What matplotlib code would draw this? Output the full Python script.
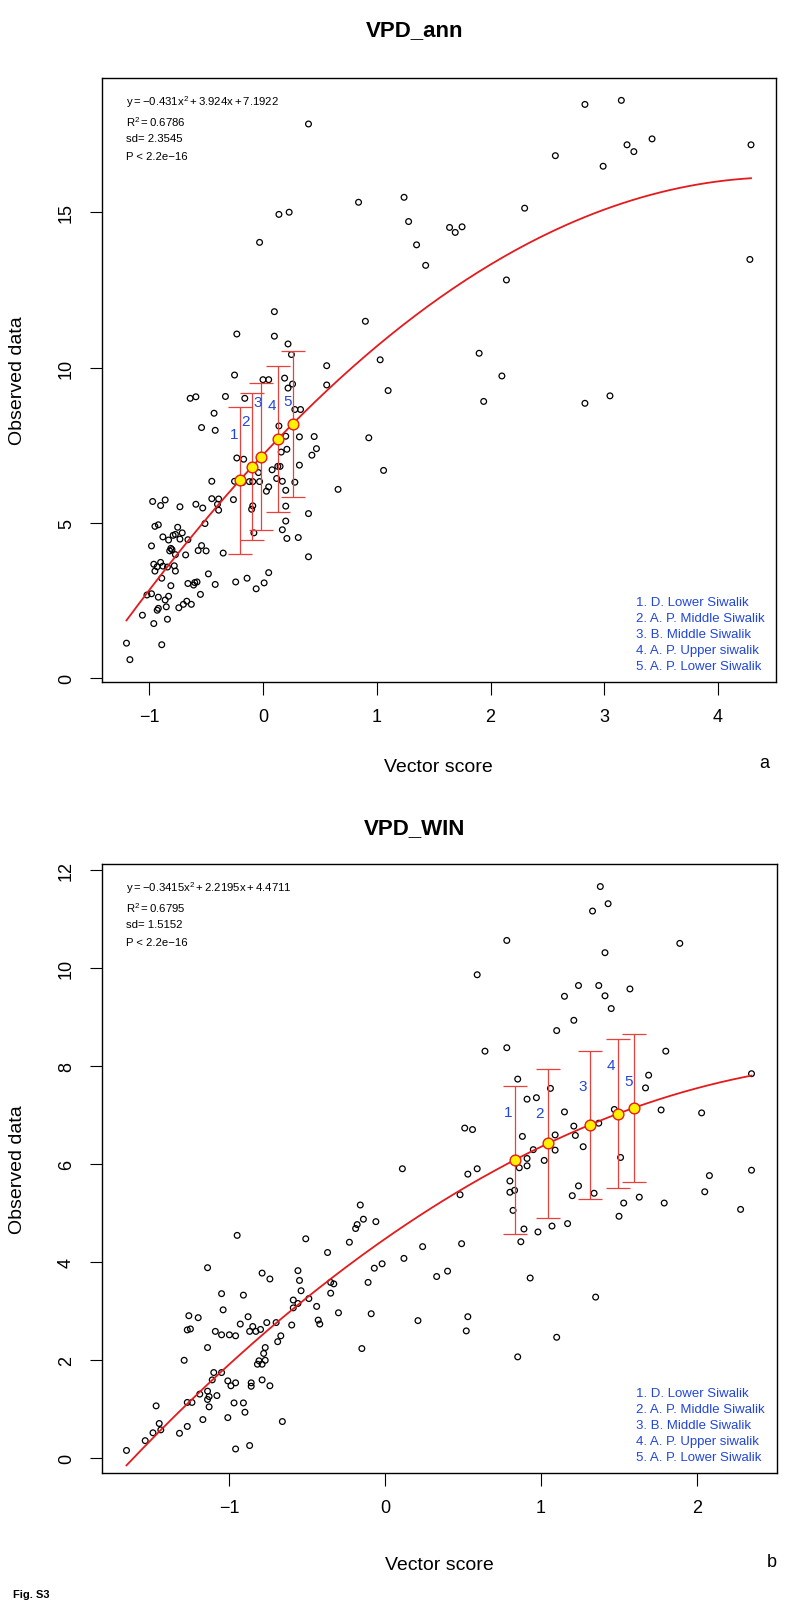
"""
Fig. S3 -- observed VPD vs vector score, quadratic fit with site means.
"""

import numpy as np
import matplotlib
matplotlib.use("Agg")
import matplotlib.pyplot as plt

plt.rcParams["font.family"] = ["Liberation Sans", "DejaVu Sans"]
plt.rcParams["mathtext.fontset"] = "custom"
plt.rcParams["mathtext.rm"] = "Liberation Sans"
plt.rcParams["mathtext.it"] = "Liberation Sans"

# ---- panel a: VPD_ann ----
a_x = [0.10, -0.23, 0.10, 0.22, 0.25, 0.56, -0.25, 0.00, 0.05, 0.19, 0.56, 0.26, 0.22,
       -0.64, -0.59, -0.33, -0.16, -0.43, 0.28, 0.33, -0.54, -0.42, 0.14, 0.20, 0.32, 0.45,
       0.47, 0.43, 0.16, 0.21, -0.23, -0.17, -0.04, 0.08, 0.13, 0.15, 0.32, -0.45, -0.25,
       -0.18, -0.12, -0.09, -0.03, 0.03, 0.05, 0.12, 0.17, 0.20, 0.28, 0.66, -0.97, -0.90,
       -0.86, -0.73, -0.59, -0.53, -0.45, -0.39, -0.39, -0.40, -0.26, -0.09, -0.10, 0.20,
       0.40, -0.51, -0.95, -0.92, -0.75, -0.71, -0.88, -0.83, -0.79, -0.77, -0.66, -0.73,
       -0.98, -0.81, -0.80, -0.82, -0.77, -0.68, -0.57, -0.54, -0.50, -0.35, -0.08, 0.17,
       0.21, 0.31, 0.20, 0.40, -0.96, -0.93, -0.90, -0.88, -0.95, -0.84, -0.78, -0.77,
       -0.89, -0.81, -0.66, -0.60, -0.58, -0.61, -0.48, -0.42, -0.24, -0.14, 0.01, 0.05,
       -0.06, -0.55, -1.02, -0.98, -0.92, -0.86, -0.83, -0.92, -0.93, -0.85, -0.74, -0.70,
       -0.67, -0.63, -1.06, -0.96, -0.84, -1.20, -1.17, -0.89,
       0.90, 1.03, 1.10, 0.93, 1.06, 0.40, 0.84, 1.24, 1.28, 1.35, 1.43, 1.64, 1.69, 1.75,
       2.30, 2.14, 1.90, 2.10, 1.94, 2.83, 3.05, 2.83, 3.15, 2.57, 2.99, 3.20, 3.26, 3.42,
       4.29, 4.28, 0.14, 0.23, -0.03]
a_y = [11.80, 11.08, 11.01, 10.76, 10.42, 10.06, 9.76, 9.61, 9.61, 9.66, 9.44, 9.47, 9.34,
       9.01, 9.06, 9.07, 9.01, 8.53, 8.65, 8.65, 8.07, 7.98, 8.12, 7.79, 7.77, 7.78,
       7.39, 7.18, 7.28, 7.37, 7.09, 7.05, 6.62, 6.71, 6.82, 6.82, 6.86, 6.34, 6.34,
       6.30, 6.33, 6.33, 6.33, 6.02, 6.16, 6.43, 6.34, 6.05, 6.31, 6.08, 5.69, 5.56,
       5.74, 5.52, 5.60, 5.48, 5.78, 5.77, 5.41, 5.60, 5.75, 5.55, 5.44, 5.54,
       5.30, 4.98, 4.89, 4.94, 4.86, 4.68, 4.55, 4.45, 4.60, 4.63, 4.46, 4.48,
       4.26, 4.18, 4.14, 4.10, 3.98, 3.97, 4.11, 4.27, 4.10, 4.03, 4.68, 4.78,
       4.50, 4.53, 5.06, 3.91, 3.67, 3.59, 3.73, 3.61, 3.45, 3.58, 3.62, 3.45,
       3.22, 2.98, 3.05, 3.08, 3.10, 3.00, 3.36, 3.02, 3.10, 3.22, 3.07, 3.40,
       2.88, 2.70, 2.68, 2.72, 2.61, 2.52, 2.64, 2.25, 2.19, 2.30, 2.27, 2.38,
       2.48, 2.38, 2.03, 1.76, 1.90, 1.13, 0.60, 1.08,
       11.49, 10.25, 9.26, 7.74, 6.69, 17.84, 15.32, 15.48, 14.70, 13.95, 13.29, 14.51, 14.35, 14.53,
       15.13, 12.82, 10.46, 9.73, 8.91, 8.85, 9.09, 18.47, 18.60, 16.82, 16.48, 17.17, 16.95, 17.36,
       17.17, 13.48, 14.93, 15.00, 14.03]
a_coef = [-0.431, 3.924, 7.1922]
a_sd = 2.3545
a_stats = [r"$\mathregular{y = -0.431x^2 + 3.924x + 7.1922}$",
           r"$\mathregular{R^2 = 0.6786}$", "sd= 2.3545", "P < 2.2e\u221216"]
a_site_x = [-0.205, -0.096, -0.015, 0.132, 0.263]
a_num_x = [-0.25, -0.15, -0.05, 0.08, 0.22]
a_num_y = [7.87, 8.27, 8.89, 8.78, 8.94]

# ---- panel b: VPD_WIN ----
b_x = [-0.16, -0.14, -0.18, -0.19, -0.06, -0.23, -0.51, -0.37, -0.95, -1.14, -0.79, -0.74,
       -0.56, -0.55, -0.54, -0.59, -0.59, -0.56, -0.49, -0.44, -0.43, -0.42, -0.35, -0.33,
       -0.35, -0.30, -0.07, -0.02, -0.11, -0.09, -0.15, -1.05, -0.91, -1.04, -0.88, -1.26,
       -1.20, -1.27, -1.25, -1.09, -1.05, -1.00, -0.96, -0.93, -0.87, -0.85, -0.83, -0.80,
       -0.76, -0.70, -0.60, -0.67, -0.69, -1.14, -0.77, -0.78, -0.81, -0.77, -0.82, -0.79,
       -1.29, -1.10, -1.05, -1.11, -1.01, -0.99, -0.96, -0.86, -0.86, -0.79, -0.74, -1.19,
       -1.14, -1.13, -1.14, -1.08, -1.13, -1.27, -1.24, -1.47, -0.97, -0.91, -0.90, -1.01,
       -1.17, -0.66, -1.27, -1.32, -1.45, -1.44, -1.49, -1.54, -0.87, -0.96, -1.66,
       1.38, 1.43, 1.33, 0.78, 1.89, 1.41, 0.59, 1.24, 1.37, 1.57, 1.41, 1.15, 1.45, 1.21,
       1.10, 0.64, 0.78, 1.80, 0.85, 1.69, 1.67, 1.06, 0.91, 0.97, 1.15, 1.77, 2.03, 2.35,
       1.47, 0.51, 0.56, 1.21, 1.37, 0.88, 1.09, 1.22, 1.27, 0.95, 0.91, 1.02, 1.09, 0.86,
       0.91, 0.11, 0.53, 0.59, 1.51, 2.08, 2.35, 0.80, 0.80, 0.83, 0.48, 0.82, 1.24, 1.20,
       1.34, 1.53, 1.50, 1.63, 1.79, 2.05, 2.28, 0.89, 0.98, 1.07, 1.17, 0.87, 0.49, 0.24,
       0.12, 0.33, 0.40, 0.93, 1.35, 0.21, 0.53, 0.52, 1.10, 0.85]
b_y = [5.16, 4.87, 4.76, 4.68, 4.82, 4.40, 4.47, 4.19, 4.54, 3.88, 3.77, 3.65,
       3.82, 3.62, 3.41, 3.22, 3.06, 3.15, 3.25, 3.09, 2.81, 2.73, 3.58, 3.55,
       3.36, 2.96, 3.87, 3.96, 3.58, 2.94, 2.23, 3.35, 3.32, 3.02, 2.88, 2.90,
       2.86, 2.61, 2.63, 2.58, 2.51, 2.51, 2.49, 2.73, 2.58, 2.68, 2.58, 2.62,
       2.76, 2.76, 2.71, 2.49, 2.37, 2.25, 2.25, 2.13, 1.98, 1.99, 1.91, 1.91,
       1.99, 1.74, 1.74, 1.59, 1.57, 1.47, 1.53, 1.53, 1.46, 1.59, 1.47, 1.30,
       1.36, 1.25, 1.19, 1.27, 1.04, 1.13, 1.13, 1.06, 1.12, 1.12, 0.93, 0.82,
       0.78, 0.74, 0.64, 0.50, 0.70, 0.57, 0.51, 0.35, 0.25, 0.18, 0.15,
       11.66, 11.31, 11.16, 10.56, 10.50, 10.31, 9.86, 9.64, 9.64, 9.57, 9.43, 9.42, 9.17, 8.93,
       8.72, 8.30, 8.37, 8.30, 7.73, 7.81, 7.55, 7.54, 7.32, 7.35, 7.06, 7.10, 7.04, 7.84,
       7.11, 6.73, 6.70, 6.77, 6.83, 6.56, 6.59, 6.58, 6.35, 6.29, 6.11, 6.07, 6.28, 5.92,
       5.96, 5.90, 5.79, 5.90, 6.13, 5.76, 5.87, 5.65, 5.42, 5.46, 5.37, 5.05, 5.55, 5.35,
       5.40, 5.20, 4.93, 5.32, 5.20, 5.43, 5.07, 4.67, 4.61, 4.73, 4.78, 4.41, 4.37, 4.31,
       4.07, 3.70, 3.81, 3.67, 3.28, 2.80, 2.88, 2.59, 2.46, 2.06]
b_coef = [-0.3415, 2.2195, 4.4711]
b_sd = 1.5152
b_stats = [r"$\mathregular{y = -0.3415x^2 + 2.2195x + 4.4711}$",
           r"$\mathregular{R^2 = 0.6795}$", "sd= 1.5152", "P < 2.2e\u221216"]
b_site_x = [0.833, 1.046, 1.312, 1.493, 1.597]
b_num_x = [0.79, 0.99, 1.27, 1.45, 1.56]
b_num_y = [7.06, 7.03, 7.59, 8.02, 7.69]

site_names = ["1. D. Lower Siwalik", "2. A. P. Middle Siwalik", "3. B. Middle Siwalik",
              "4. A. P. Upper siwalik", "5. A. P. Lower Siwalik"]

W, H = 787, 1615
BLUE = "#2246DA"


def fx(px):
    return px / W


def fy(py):
    return 1 - py / H


def r_lim(v):
    lo, hi = min(v), max(v)
    d = 0.04 * (hi - lo)
    return lo - d, hi + d


def draw_panel(fig, box, xs, ys, coef, sd, stats, site_x, num_x, num_y,
               title, letter, xticks, yticks, title_y, xlab_y, letter_x):
    left, top, right, bottom = box
    ax = fig.add_axes([fx(left), fy(bottom), fx(right - left), (bottom - top) / H])

    ax.scatter(xs, ys, s=17, facecolors="none", edgecolors="black", linewidths=0.9, zorder=2)

    xx = np.linspace(min(xs), max(xs), 200)
    ax.plot(xx, np.polyval(coef, xx), color="#E41A1C", lw=1.3, zorder=3)

    sx = np.array(site_x)
    sy = np.polyval(coef, sx)
    ax.errorbar(sx, sy, yerr=sd, fmt="none", ecolor="#E8403A", elinewidth=0.9,
                capsize=8.3, capthick=0.9, zorder=4)
    ax.scatter(sx, sy, s=60, color="#FFF200", edgecolors="#E41A1C", linewidths=1.0, zorder=5)
    for i, (tx, ty) in enumerate(zip(num_x, num_y)):
        ax.text(tx, ty, str(i + 1), color=BLUE, fontsize=11, ha="center", va="center", zorder=6)

    ax.set_xlim(r_lim(xs))
    ax.set_ylim(r_lim(ys))
    ax.set_xticks(xticks)
    ax.set_yticks(yticks)
    ax.tick_params(length=9, width=0.8, labelsize=13, pad=10)
    for lab in ax.get_yticklabels():
        lab.set_rotation(90)
        lab.set_va("center")
    for sp in ax.spines.values():
        sp.set_linewidth(1.0)

    # fit statistics, top-left
    for txt, off in zip(stats, [22.7, 43.3, 60.3, 78.3]):
        fig.text(fx(left + 25), fy(top + off), txt, fontsize=8.2, va="center", ha="left")

    # site legend, bottom-right
    for i, name in enumerate(site_names):
        fig.text(fx(right - 140), fy(bottom - 80 + 16 * i), name, fontsize=9.5,
                 color=BLUE, va="center", ha="left")

    cx = (left + right) / 2
    fig.text(fx(cx - 24), fy(title_y), title, fontsize=16, fontweight="bold", ha="center", va="center")
    fig.text(fx(cx), fy(xlab_y), "Vector score", fontsize=14, ha="center", va="center")
    fig.text(fx(18), fy((top + bottom) / 2), "Observed data", fontsize=14, rotation=90,
             ha="center", va="center")
    fig.text(fx(letter_x), fy(xlab_y - 3), letter, fontsize=13, ha="center", va="center")
    return ax


fig = plt.figure(figsize=(W / 100, H / 100), dpi=100)

draw_panel(fig, (101.5, 79, 776, 683), a_x, a_y, a_coef, a_sd, a_stats,
           a_site_x, a_num_x, a_num_y, "VPD_ann", "a",
           [-1, 0, 1, 2, 3, 4], [0, 5, 10, 15], 31, 767, 764)

draw_panel(fig, (101.5, 865, 776.5, 1474), b_x, b_y, b_coef, b_sd, b_stats,
           b_site_x, b_num_x, b_num_y, "VPD_WIN", "b",
           [-1, 0, 1, 2], [0, 2, 4, 6, 8, 10, 12], 829, 1566, 772)

fig.text(fx(13), fy(1595), "Fig. S3", fontsize=8, fontweight="bold", ha="left", va="center")

fig.savefig("out.png", dpi=100)
